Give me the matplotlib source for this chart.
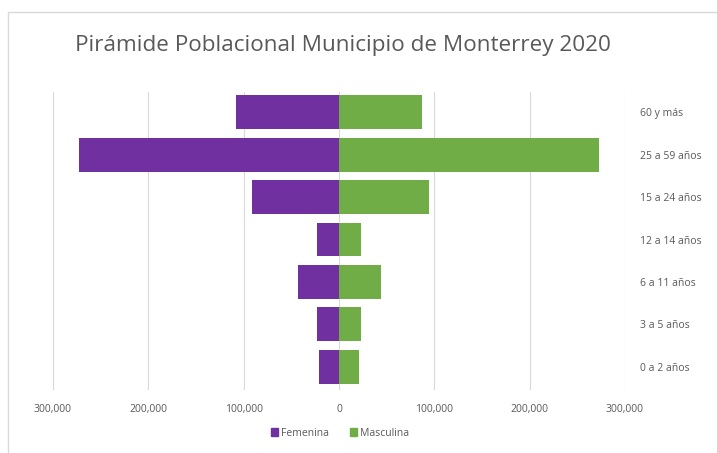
import matplotlib.pyplot as plt
import matplotlib.patches as mpatches
import numpy as np

# data, bottom to top
grupos = ['0 a 2 años', '3 a 5 años', '6 a 11 años', '12 a 14 años',
          '15 a 24 años', '25 a 59 años', '60 y más']
femenina = [21000, 23000, 43000, 23000, 91000, 273000, 108000]
masculina = [21000, 23500, 44000, 23500, 94000, 273000, 87000]
xticks = [-300000, -200000, -100000, 0, 100000, 200000, 300000]

purple = '#7030A0'
green = '#70AD47'
gray = '#595959'

plt.rcParams['font.family'] = ['Open Sans', 'DejaVu Sans']

fig = plt.figure(figsize=(7.17, 4.53), dpi=100)
ax = fig.add_axes([53 / 717, 1 - 390 / 453, (625 - 53) / 717, (390 - 92) / 453])

# chart border
fig.patches.append(mpatches.Rectangle((8 / 717, -0.01), 1.0, 1 - 12 / 453 + 0.01,
                                      transform=fig.transFigure, fill=False,
                                      edgecolor='#D9D9D9', linewidth=1.0))

y = np.arange(len(grupos))
ax.barh(y, -np.array(femenina), height=0.8, color=purple, label='Femenina', zorder=3)
ax.barh(y, masculina, height=0.8, color=green, label='Masculina', zorder=3)

ax.set_xlim(-300000, 300000)
ax.set_ylim(-0.55, 6.48)
ax.set_xticks(xticks)
ax.set_xticklabels(['{:,}'.format(abs(v)) for v in xticks], color=gray, fontsize=7.5)
ax.set_yticks(y)
ax.set_yticklabels(grupos, color=gray, fontsize=7.5)
ax.yaxis.tick_right()
ax.tick_params(axis='both', length=0)
ax.tick_params(axis='y', pad=11)
ax.tick_params(axis='x', pad=10)

ax.grid(axis='x', color='#D9D9D9', linewidth=0.8, zorder=0)
for s in ax.spines.values():
    s.set_visible(False)

fig.text(343 / 717, 1 - 45 / 453, 'Pirámide Poblacional Municipio de Monterrey 2020',
         ha='center', va='center', fontsize=16.2, color=gray)

handles = [mpatches.Patch(color=purple, label='Femenina'),
           mpatches.Patch(color=green, label='Masculina')]
fig.legend(handles=handles, loc='center', bbox_to_anchor=(340 / 717, 1 - 433 / 453),
           ncol=2, frameon=False, fontsize=7.5, handlelength=0.7, handleheight=0.7,
           handletextpad=0.3, columnspacing=2.0, labelcolor=gray)

fig.savefig('out.png', dpi=100)
